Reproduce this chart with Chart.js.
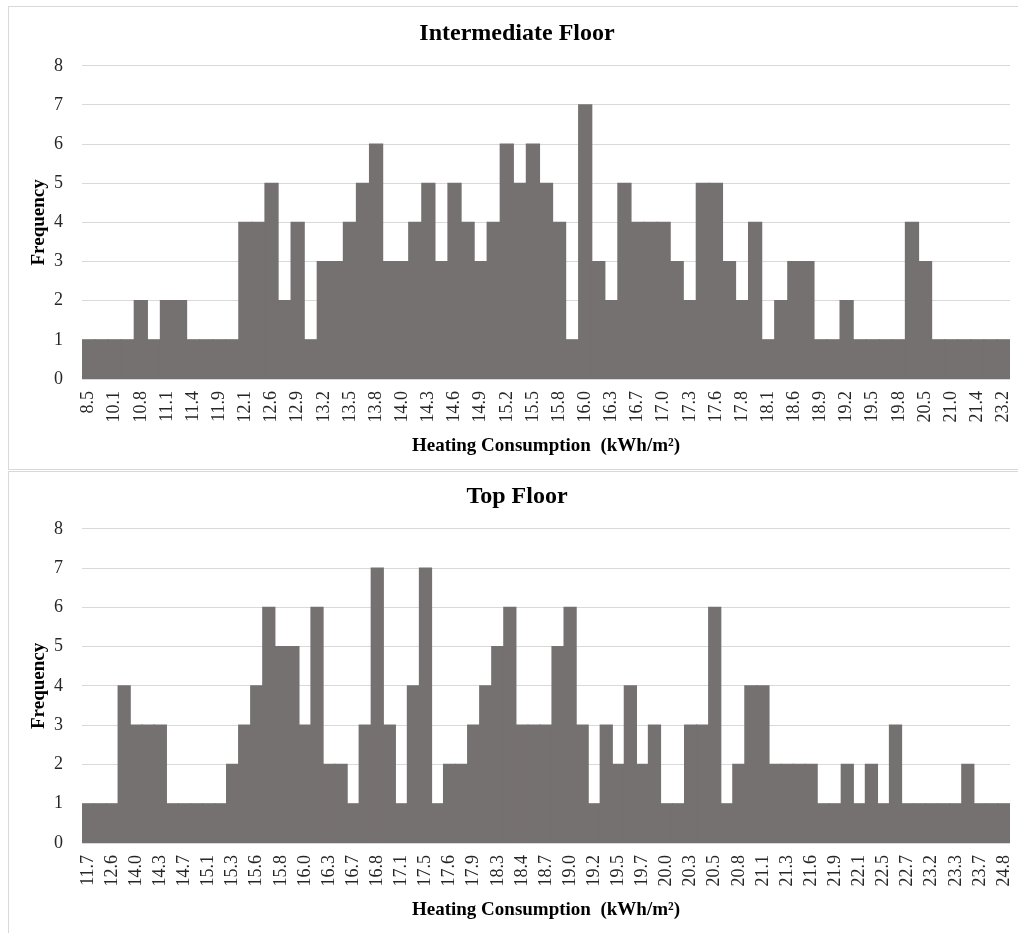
<!DOCTYPE html>
<html>
<head>
<meta charset="utf-8">
<script src="https://cdn.jsdelivr.net/npm/chart.js@4/dist/chart.umd.min.js"></script>
<style>
    body { margin: 0; background: #fff; width: 1018px; height: 933px; overflow: hidden; position: relative; }
    .panel { position: absolute; left: 8px; width: 1040px; border: 1px solid #d9d9d9; }
    #panelTop { top: 6px; height: 462px; }
    #panelBottom { top: 471px; height: 480px; }
    canvas { position: absolute; left: 0; }
    #intermediateChart { top: 0; }
    #topFloorChart { top: 471px; }
</style>
</head>
<body>
<div class="panel" id="panelTop"></div>
<div class="panel" id="panelBottom"></div>
<canvas id="intermediateChart" width="1018" height="470"></canvas>
<canvas id="topFloorChart" width="1018" height="462"></canvas>

<script>
// Intermediate floor: one bar per value, only every other bar carries a label
const intermediateTicks = ['8.5', '10.1', '10.8', '11.1', '11.4', '11.9', '12.1', '12.6', '12.9', '13.2',
    '13.5', '13.8', '14.0', '14.3', '14.6', '14.9', '15.2', '15.5', '15.8', '16.0',
    '16.3', '16.7', '17.0', '17.3', '17.6', '17.8', '18.1', '18.6', '18.9', '19.2',
    '19.5', '19.8', '20.5', '21.0', '21.4', '23.2'];
const intermediateCounts = [1, 1, 1, 1, 2, 1, 2, 2, 1, 1,
    1, 1, 4, 4, 5, 2, 4, 1, 3, 3,
    4, 5, 6, 3, 3, 4, 5, 3, 5, 4,
    3, 4, 6, 5, 6, 5, 4, 1, 7, 3,
    2, 5, 4, 4, 4, 3, 2, 5, 5, 3,
    2, 4, 1, 2, 3, 3, 1, 1, 2, 1,
    1, 1, 1, 4, 3, 1, 1, 1, 1, 1,
    1];

// Top floor
const topFloorTicks = ['11.7', '12.6', '14.0', '14.3', '14.7', '15.1', '15.3', '15.6', '15.8', '16.0',
    '16.3', '16.7', '16.8', '17.1', '17.5', '17.6', '17.9', '18.3', '18.4', '18.7',
    '19.0', '19.2', '19.5', '19.7', '20.0', '20.3', '20.5', '20.8', '21.1', '21.3',
    '21.6', '21.9', '22.1', '22.5', '22.7', '23.2', '23.3', '23.7', '24.8'];
const topFloorCounts = [1, 1, 1, 4, 3, 3, 3, 1, 1, 1,
    1, 1, 2, 3, 4, 6, 5, 5, 3, 6,
    2, 2, 1, 3, 7, 3, 1, 4, 7, 1,
    2, 2, 3, 4, 5, 6, 3, 3, 3, 5,
    6, 3, 1, 3, 2, 4, 2, 3, 1, 1,
    3, 3, 6, 1, 2, 4, 4, 2, 2, 2,
    2, 1, 1, 2, 1, 2, 1, 3, 1, 1,
    1, 1, 1, 2, 1, 1, 1];

const yTicks = [0, 1, 2, 3, 4, 5, 6, 7, 8];

const serif = '"Liberation Serif", "Times New Roman", serif';
const barColor = '#767171';
const gridColor = '#d9d9d9';

// spread the tick labels over the even-numbered bars
function buildLabels(ticks, counts) {
    return counts.map((_, i) => (i % 2 === 0 ? ticks[i / 2] : ''));
}

function makeHistogram(canvasId, titleText, ticks, counts, box) {
    const ctx = document.getElementById(canvasId).getContext('2d');
    return new Chart(ctx, {
        type: 'bar',
        data: {
            labels: buildLabels(ticks, counts),
            datasets: [{
                label: 'Frequency',
                data: counts,
                backgroundColor: barColor,
                borderWidth: 0,
                barPercentage: 1,
                categoryPercentage: 1,
                // neighbours touch; inflate a little so no seams show between them
                inflateAmount: 0.6
            }]
        },
        options: {
            responsive: false,
            animation: false,
            layout: { padding: { left: 24, right: 8, top: 0, bottom: 0 } },
            plugins: {
                legend: { display: false },
                tooltip: { enabled: false },
                title: {
                    display: true,
                    text: titleText,
                    color: '#000',
                    font: { family: serif, size: 24, weight: 'bold' },
                    padding: { top: box.titleTop, bottom: box.titleBottom }
                }
            },
            scales: {
                x: {
                    grid: { display: false, drawTicks: false },
                    border: { display: false },
                    ticks: {
                        autoSkip: false,
                        minRotation: 90,
                        maxRotation: 90,
                        padding: 12,
                        color: '#262626',
                        font: { family: serif, size: 18 }
                    },
                    title: {
                        display: true,
                        text: 'Heating Consumption  (kWh/m²)',
                        color: '#000',
                        font: { family: serif, size: 19, weight: 'bold' },
                        padding: { top: 0, bottom: box.axisTitleBottom }
                    },
                    afterFit: (scale) => {
                        scale.height = box.xHeight;
                        // rotated labels need no side room; keep the plot edge at the padding
                        scale.paddingLeft = 0;
                        scale.paddingRight = 0;
                    }
                },
                y: {
                    min: yTicks[0],
                    max: yTicks[yTicks.length - 1],
                    grid: { color: gridColor, lineWidth: 1, drawTicks: false },
                    border: { display: false },
                    afterBuildTicks: (scale) => { scale.ticks = yTicks.map(v => ({ value: v })); },
                    ticks: {
                        padding: 19,
                        color: '#262626',
                        font: { family: serif, size: 18 }
                    },
                    title: {
                        display: true,
                        text: 'Frequency',
                        color: '#000',
                        font: { family: serif, size: 19, weight: 'bold' },
                        padding: { top: 4, bottom: 0 }
                    },
                    afterFit: (scale) => {
                        scale.width = 58;
                        scale.paddingTop = 0;
                        scale.paddingBottom = 0;
                    }
                }
            }
        }
    });
}

makeHistogram('intermediateChart', 'Intermediate Floor', intermediateTicks, intermediateCounts,
    { titleTop: 19, titleBottom: 18, xHeight: 91, axisTitleBottom: 13 });
makeHistogram('topFloorChart', 'Top Floor', topFloorTicks, topFloorCounts,
    { titleTop: 11, titleBottom: 18, xHeight: 90, axisTitleBottom: 12 });
</script>
</body>
</html>
